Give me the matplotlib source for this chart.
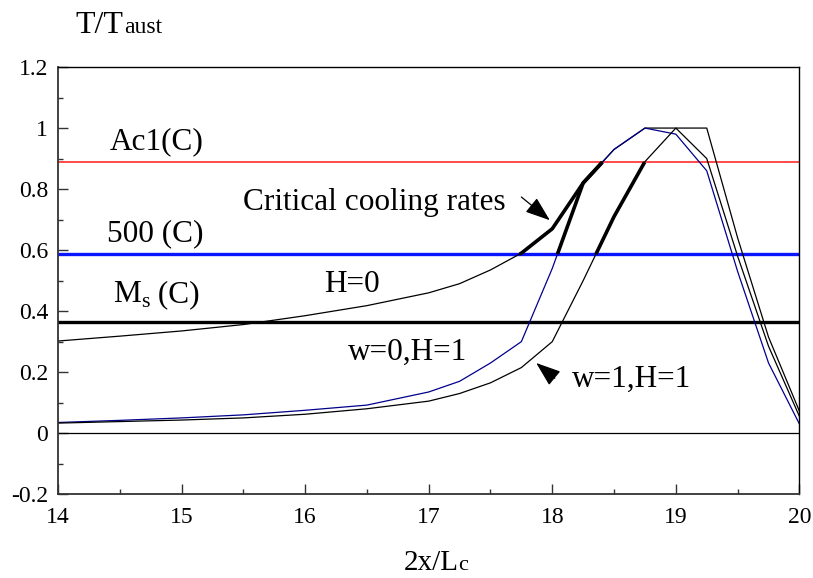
import numpy as np
import matplotlib.pyplot as plt
from matplotlib.ticker import MultipleLocator

plt.rcParams['font.family'] = ['Liberation Serif', 'DejaVu Serif']

# normalised position across the plate
x = [14.0, 14.5, 15.0, 15.5, 16.0, 16.5, 17.0, 17.25, 17.5, 17.75,
     18.0, 18.25, 18.5, 18.75, 19.0, 19.25, 19.5, 19.75, 20.0]

# peak temperature / austenitising temperature
t_h0 = [0.302, 0.318, 0.335, 0.356, 0.385, 0.418, 0.46, 0.49, 0.535, 0.59,
        0.67, 0.82, 0.93, 1.0, 1.0, 0.90, 0.58, 0.285, 0.055]
t_w0_h1 = [0.035, 0.042, 0.05, 0.06, 0.075, 0.092, 0.135, 0.17, 0.23, 0.30,
           0.54, 0.82, 0.93, 1.0, 0.98, 0.86, 0.53, 0.23, 0.03]
t_w1_h1 = [0.033, 0.038, 0.043, 0.05, 0.062, 0.08, 0.105, 0.13, 0.165, 0.215,
           0.30, 0.50, 0.71, 0.89, 1.0, 1.0, 0.64, 0.315, 0.072]

# reference temperatures
ac1 = 0.888
t500 = 0.587
ms = 0.364


def critical_part(xs, ys, lo, hi):
    # rising flank of a curve between two levels
    xs = np.asarray(xs)
    ys = np.asarray(ys)
    k = int(np.argmax(ys))
    xr, yr = xs[:k + 1], ys[:k + 1]
    x_lo = np.interp(lo, yr, xr)
    x_hi = np.interp(hi, yr, xr)
    inner = xr[(xr > x_lo) & (xr < x_hi)]
    px = np.concatenate([[x_lo], inner, [x_hi]])
    return px, np.interp(px, xr, yr)


fig = plt.figure(figsize=(8.13, 5.78), dpi=100)
ax = fig.add_axes([0.0713, 0.145, 0.912, 0.739])

ax.axhline(ac1, color='#ff3b3b', lw=1.3)
ax.axhline(t500, color='#0a14ff', lw=2.4)
ax.axhline(ms, color='black', lw=2.4)
ax.axhline(0, color='black', lw=0.9)

ax.plot(x, t_h0, color='black', lw=0.9)
ax.plot(x, t_w0_h1, color='#00008b', lw=0.9)
ax.plot(x, t_w1_h1, color='black', lw=0.9)

for curve in (t_h0, t_w0_h1, t_w1_h1):
    cx, cy = critical_part(x, curve, t500, ac1)
    ax.plot(cx, cy, color='black', lw=2.6, solid_capstyle='butt')

ax.set_xlim(14, 20)
ax.set_ylim(-0.2, 1.2)
ax.xaxis.set_major_locator(MultipleLocator(1))
ax.xaxis.set_minor_locator(MultipleLocator(0.5))
ax.yaxis.set_minor_locator(MultipleLocator(0.1))
ax.set_yticks(np.arange(-0.2, 1.21, 0.2))
ax.set_yticklabels(['-0.2', '0', '0.2', '0.4', '0.6', '0.8', '1', '1.2'])
ax.tick_params(which='both', direction='in', top=False, right=False,
               labelsize=17, width=1.0, color='#333333')
ax.tick_params(which='major', length=7)
ax.tick_params(which='minor', length=3.6)
ax.tick_params(axis='x', which='major', pad=9)
ax.tick_params(axis='y', which='major', pad=7)
for side in ('top', 'right'):
    ax.spines[side].set_linewidth(1.0)
for side in ('left', 'bottom'):
    ax.spines[side].set_linewidth(1.3)
    ax.spines[side].set_color('#333333')

big = 22.5
ax.text(14.42, 0.93, 'Ac1(C)', fontsize=big)
ax.text(14.40, 0.63, '500 (C)', fontsize=big)
m = ax.text(14.45, 0.43, 'M', fontsize=big)
s = ax.annotate('s', xy=(1, 0), xycoords=m, xytext=(0, -2),
                textcoords='offset points', fontsize=16, va='bottom')
ax.annotate(' (C)', xy=(1, 0), xycoords=s, xytext=(0, 2),
            textcoords='offset points', fontsize=big, va='bottom')
ax.text(15.50, 0.731, 'Critical cooling rates', fontsize=big)
ax.text(16.15, 0.462, 'H=0', fontsize=big)
ax.text(16.35, 0.24, 'w=0,H=1', fontsize=big)
ax.text(18.16, 0.151, 'w=1,H=1', fontsize=big)

head = dict(arrowstyle='-|>,head_length=0.55,head_width=0.2', color='black',
            lw=0.9, mutation_scale=28, shrinkA=0, shrinkB=0)
ax.annotate('', xy=(17.98, 0.698), xytext=(17.75, 0.774), arrowprops=head)
ax.annotate('', xy=(17.87, 0.23), xytext=(18.02, 0.18), arrowprops=head)

fig.text(0.0923, 0.943, 'T/T', fontsize=23)
fig.text(0.1525, 0.943, 'aust', fontsize=17)
fig.text(0.497, 0.014, '2x/L', fontsize=21)
fig.text(0.564, 0.014, 'c', fontsize=16)

fig.savefig('out.png', dpi=100)
